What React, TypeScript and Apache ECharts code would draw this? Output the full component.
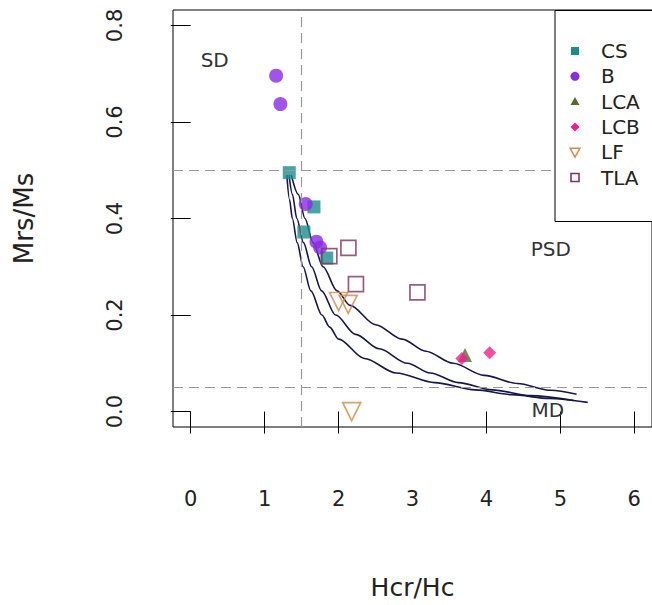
import { useEffect, useRef } from "react";
import * as echarts from "echarts";

const xTicks = [0, 1, 2, 3, 4, 5, 6];
const yTicks = [0, 0.2, 0.4, 0.6, 0.8];

const csPoints = [[1.333, 0.495], [1.667, 0.424], [1.53, 0.372], [1.84, 0.318]];
const bPoints = [[1.155, 0.696], [1.213, 0.637], [1.555, 0.43], [1.7, 0.352], [1.75, 0.34]];
const lcaPoints = [[3.71, 0.117]];
const lcbPoints = [[3.667, 0.11], [4.044, 0.122]];
const lfPoints = [[2.0, 0.228], [2.13, 0.222], [2.177, 0.0]];
const tlaPoints = [[1.875, 0.322], [2.133, 0.339], [2.235, 0.264], [3.067, 0.247]];

const curveLower = [
  [1.3, 0.49], [1.335, 0.44], [1.375, 0.4], [1.44, 0.35], [1.52, 0.3], [1.625, 0.25],
  [1.775, 0.2], [1.88, 0.175], [2.0, 0.15], [2.35, 0.11], [2.78, 0.08], [3.3, 0.06],
  [3.85, 0.045], [4.35, 0.035], [4.85, 0.027], [5.37, 0.019],
];
const curveMiddle = [
  [1.33, 0.49], [1.375, 0.45], [1.435, 0.4], [1.525, 0.35], [1.635, 0.3], [1.77, 0.25],
  [1.96, 0.2], [2.23, 0.16], [2.55, 0.13], [2.93, 0.1], [3.24, 0.08], [3.62, 0.06],
  [4.08, 0.045], [4.6, 0.033], [5.18, 0.023],
];
const curveUpper = [
  [1.36, 0.49], [1.455, 0.45], [1.545, 0.4], [1.655, 0.35], [1.79, 0.3], [1.98, 0.25],
  [2.155, 0.22], [2.5, 0.18], [2.86, 0.15], [3.18, 0.125], [3.55, 0.1], [3.97, 0.075],
  [4.42, 0.058], [4.87, 0.044], [5.22, 0.036],
];

const regionLabels = [
  { text: "SD", x: 0.324, y: 0.729 },
  { text: "PSD", x: 4.87, y: 0.336 },
  { text: "MD", x: 4.83, y: 0.003 },
];

const legendNames = ["CS", "B", "LCA", "LCB", "LF", "TLA"];
const colors = {
  CS: "#1E8C8C",
  B: "#8A2BE2",
  LCA: "#556B2F",
  LCB: "#F0208A",
  LF: "#D08A4A",
  TLA: "#7A3560",
};

export default function App() {
  const ref = useRef<HTMLDivElement>(null);
  useEffect(() => {
    const chart = echarts.init(ref.current!, null, { renderer: "svg" });
    const font = "DejaVu Sans";
    const sc = (
      name: string,
      data: number[][],
      symbol: string,
      size: number,
      color: string,
      open: boolean,
      rotate = 0
    ) => ({
      name,
      type: "scatter",
      data,
      symbol,
      symbolSize: size,
      symbolRotate: rotate,
      itemStyle: open
        ? { color: "rgba(255,255,255,0)", borderColor: color, borderWidth: 1.7 }
        : { color },
      z: 3,
    });
    const curve = (name: string, data: number[][], extra = {}) => ({
      name,
      type: "line",
      data,
      symbol: "none",
      showSymbol: false,
      smooth: 0.3,
      smoothMonotone: "x",
      lineStyle: { color: "#16164a", width: 1.6 },
      z: 2,
      ...extra,
    });
    chart.setOption({
      animation: false,
      backgroundColor: "#fff",
      textStyle: { fontFamily: font },
      grid: {
        left: 173,
        top: 10,
        width: 487,
        height: 423,
        show: true,
        borderColor: "#000",
        borderWidth: 1,
      },
      xAxis: {
        type: "value",
        min: -0.24,
        max: 6.24,
        axisLine: { show: false },
        splitLine: { show: false },
        axisTick: {
          show: true,
          customValues: xTicks,
          length: 22,
          inside: false,
          lineStyle: { color: "#000", width: 1 },
        },
        axisLabel: {
          customValues: xTicks,
          fontSize: 21,
          margin: 61,
          color: "#222",
          fontFamily: font,
        },
        name: "Hcr/Hc",
        nameLocation: "middle",
        nameGap: 148,
        nameTextStyle: { fontSize: 25, color: "#222", fontFamily: font },
      },
      yAxis: {
        type: "value",
        min: -0.032,
        max: 0.832,
        axisLine: { show: false },
        splitLine: { show: false },
        axisTick: {
          show: true,
          customValues: yTicks,
          length: 20,
          inside: false,
          lineStyle: { color: "#000", width: 1 },
        },
        axisLabel: {
          customValues: yTicks,
          rotate: 90,
          fontSize: 21,
          margin: 48,
          color: "#222",
          fontFamily: font,
          formatter: (v: number) => v.toFixed(1),
        },
        name: "Mrs/Ms",
        nameLocation: "middle",
        nameGap: 136,
        nameTextStyle: { fontSize: 26, color: "#222", fontFamily: font },
      },
      series: [
        curve("curveLower", curveLower, {
          markLine: {
            silent: true,
            symbol: ["none", "none"],
            label: { show: false },
            lineStyle: { color: "#999", type: [10, 6], width: 1.2 },
            data: [{ xAxis: 1.5 }, { yAxis: 0.5 }, { yAxis: 0.05 }],
          },
        }),
        curve("curveMiddle", curveMiddle),
        curve("curveUpper", curveUpper),
        sc("CS", csPoints, "rect", 13, colors.CS, false),
        sc("B", bPoints, "circle", 14, colors.B, false),
        sc("LCA", lcaPoints, "triangle", 14, colors.LCA, false),
        sc("LCB", lcbPoints, "diamond", 13, colors.LCB, false),
        sc("LF", lfPoints, "triangle", 18, colors.LF, true, 180),
        sc("TLA", tlaPoints, "rect", 15, colors.TLA, true),
      ],
    });

    const graphics: any[] = [];
    regionLabels.forEach((r, i) => {
      const p = chart.convertToPixel({ gridIndex: 0 }, [r.x, r.y]) as number[];
      graphics.push({
        type: "text",
        id: "region" + i,
        x: p[0],
        y: p[1],
        z: 50,
        style: {
          text: r.text,
          fontSize: 20,
          fontFamily: font,
          fill: "#333",
          align: "center",
          verticalAlign: "middle",
        },
      });
    });
    const lx = 555, ly = 10.5, lw = 110, lh = 211;
    graphics.push({
      type: "rect",
      id: "legendBox",
      z: 60,
      shape: { x: lx, y: ly, width: lw, height: lh },
      style: { fill: "#fff", stroke: "#000", lineWidth: 1 },
    });
    const mx = 575;
    legendNames.forEach((n, i) => {
      const cy = 51 + 25.3 * i;
      const c = (colors as any)[n];
      let m: any;
      if (n === "CS") {
        m = { type: "rect", shape: { x: mx - 4, y: cy - 4, width: 8, height: 8 }, style: { fill: c } };
      } else if (n === "B") {
        m = { type: "circle", shape: { cx: mx, cy, r: 4.5 }, style: { fill: c } };
      } else if (n === "LCA") {
        m = { type: "polygon", shape: { points: [[mx, cy - 4.5], [mx + 4.5, cy + 3.5], [mx - 4.5, cy + 3.5]] }, style: { fill: c } };
      } else if (n === "LCB") {
        m = { type: "polygon", shape: { points: [[mx, cy - 4.5], [mx + 4.5, cy], [mx, cy + 4.5], [mx - 4.5, cy]] }, style: { fill: c } };
      } else if (n === "LF") {
        m = { type: "polygon", shape: { points: [[mx - 5, cy - 4], [mx + 5, cy - 4], [mx, cy + 5]] }, style: { fill: "none", stroke: c, lineWidth: 1.4 } };
      } else {
        m = { type: "rect", shape: { x: mx - 4, y: cy - 4, width: 8, height: 8 }, style: { fill: "none", stroke: c, lineWidth: 1.6 } };
      }
      graphics.push({ ...m, id: "lm" + i, z: 61 });
      graphics.push({
        type: "text",
        id: "lt" + i,
        x: 601,
        y: cy,
        z: 61,
        style: {
          text: n,
          fontSize: 20,
          fontFamily: font,
          fill: "#222",
          align: "left",
          verticalAlign: "middle",
        },
      });
    });
    chart.setOption({ graphic: graphics });
    return () => chart.dispose();
  }, []);
  return (
    <div
      ref={ref}
      style={{ position: "fixed", left: 0, top: 0, width: 652, height: 605 }}
    />
  );
}
